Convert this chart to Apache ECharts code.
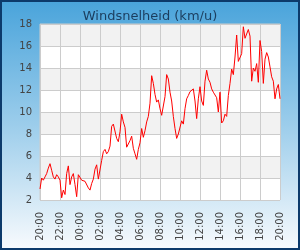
<!DOCTYPE html>
<html>
<head>
<meta charset="utf-8">
<script src="https://cdn.jsdelivr.net/npm/echarts@6/dist/echarts.min.js"></script>
<style>
  html, body { margin: 0; padding: 0; }
  #chart { width: 300px; height: 250px; box-sizing: border-box; border: 2px solid #0c3a6b; }
</style>
</head>
<body>
<div id="chart"></div>
<script>
// wind speed every 10 minutes, 20:00 -> 20:00
const speed = [
  3.0, 4.0, 3.8, 4.1, 4.4, 4.9, 5.3, 4.7, 4.1, 3.9, 4.3, 4.1,
  3.8, 2.2, 2.9, 2.5, 4.4, 5.1, 3.4, 4.1, 4.4, 3.4, 2.3, 4.3,
  4.3, 3.8, 3.7, 3.7, 3.6, 3.1, 2.9, 3.5, 3.9, 4.8, 5.2, 3.9,
  4.0, 5.6, 6.4, 6.6, 6.2, 6.4, 6.9, 8.7, 8.9, 9.0, 7.6, 7.3,
  8.2, 9.8, 9.1, 8.6, 6.8, 6.9, 7.4, 7.8, 6.7, 6.2, 5.7, 6.6,
  7.2, 8.5, 7.7, 8.3, 9.1, 9.6, 10.8, 13.3, 12.6, 11.6, 10.9, 11.1,
  10.3, 9.7, 9.8, 11.4, 13.4, 13.0, 11.8, 11.0, 9.6, 8.5, 7.6, 8.0,
  8.1, 9.2, 8.9, 10.3, 11.2, 11.5, 11.85, 11.7, 12.1, 11.0, 9.4, 11.2,
  12.3, 11.0, 10.6, 12.8, 13.8, 13.0, 12.7, 12.1, 11.8, 11.7, 11.3, 10.0,
  11.8, 9.0, 9.2, 9.8, 9.6, 11.5, 12.6, 13.9, 13.4, 15.0, 17.0, 14.6,
  14.6, 15.3, 17.75, 16.7, 16.6, 17.5, 16.9, 12.8, 14.0, 13.7, 14.4, 12.7,
  16.5, 15.5, 12.6, 14.8, 15.4, 15.0, 14.1, 13.2, 12.8, 11.2, 12.1, 12.5,
  11.2
];

const times = [];
for (let i = 0; i < speed.length; i++) {
  const m = (20 * 60 + i * 10) % (24 * 60);
  const hh = String(Math.floor(m / 60)).padStart(2, '0');
  const mm = String(m % 60).padStart(2, '0');
  times.push(hh + ':' + mm);
}

const yMin = 2, yMax = 18, yStep = 2;

const myChart = echarts.init(document.getElementById('chart'));
myChart.setOption({
  animation: false,
  backgroundColor: new echarts.graphic.LinearGradient(0, 0, 0, 1, [
    { offset: 0, color: '#4aa4db' },
    { offset: 0.5, color: '#9ccdeb' },
    { offset: 1, color: '#f7fafd' }
  ]),
  title: {
    text: 'Windsnelheid (km/u)',
    left: 'center',
    top: 3,
    textStyle: { fontFamily: 'DejaVu Sans', fontSize: 13, fontWeight: 'normal', color: '#1b3d5e' }
  },
  grid: { left: 38, right: 18, top: 22, bottom: 48, show: true, borderColor: '#cccccc', borderWidth: 1 },
  xAxis: {
    type: 'category',
    data: times,
    boundaryGap: false,
    axisLine: { show: false },
    axisTick: { show: false },
    axisLabel: {
      interval: 11,
      rotate: 90,
      margin: 12,
      fontFamily: 'DejaVu Sans',
      fontSize: 10,
      color: '#444'
    },
    splitLine: { show: true, interval: 11, lineStyle: { color: '#cccccc' } }
  },
  yAxis: {
    type: 'value',
    min: yMin,
    max: yMax,
    interval: yStep,
    axisLine: { show: false },
    axisTick: { show: false },
    axisLabel: { margin: 8, fontFamily: 'DejaVu Sans', fontSize: 10, color: '#444' },
    splitLine: { lineStyle: { color: '#cccccc' } },
    splitArea: { show: true, areaStyle: { color: ['#ffffff', '#f2f2f2'] } }
  },
  series: [{
    type: 'line',
    data: speed,
    showSymbol: false,
    lineStyle: { color: '#ff0000', width: 1 }
  }]
});
</script>
</body>
</html>
